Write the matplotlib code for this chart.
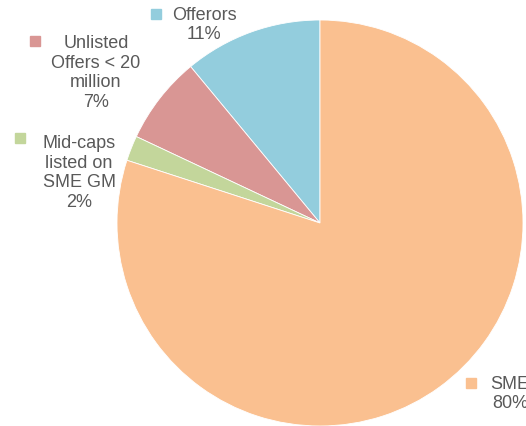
import matplotlib.pyplot as plt

# slice data, counter-clockwise from 12 o'clock
labels = ['Offerors', 'Unlisted\nOffers < 20\nmillion', 'Mid-caps\nlisted on\nSME GM', 'SME']
shares = [11, 7, 2, 80]
colors = ['#93CDDD', '#D99694', '#C3D69B', '#FAC090']

# label layout in pixels: (text centre x, text centre y, square x, square y)
label_pos = [
    (204, 25, 156, 14),
    (96, 73, 35, 41),
    (79, 173, 20, 138),
    (510, 394, 471, 383),
]

W, H = 526, 426
CX, CY, R = 320, 223, 203


def to_data(px, py):
    return (px - CX) / R, (CY - py) / R


fig = plt.figure(figsize=(W / 100, H / 100), dpi=100)
ax = fig.add_axes([0, 0, 1, 1])
ax.axis('off')

ax.pie(shares, colors=colors, startangle=90, counterclock=True, radius=1,
       wedgeprops=dict(edgecolor='white', linewidth=0.6))

ax.set_xlim(-CX / R, (W - CX) / R)
ax.set_ylim((CY - H) / R, CY / R)
ax.set_aspect('auto')

for lab, val, col, (tx, ty, sx, sy) in zip(labels, shares, colors, label_pos):
    x, y = to_data(tx, ty)
    ax.text(x, y, f'{lab}\n{val}%', ha='center', va='center', fontsize=13,
            family='Liberation Sans', color='#595959', linespacing=1.22)
    mx, my = to_data(sx, sy)
    ax.plot(mx, my, marker='s', markersize=7, color=col, linestyle='none')

fig.savefig('out.png', dpi=100)
